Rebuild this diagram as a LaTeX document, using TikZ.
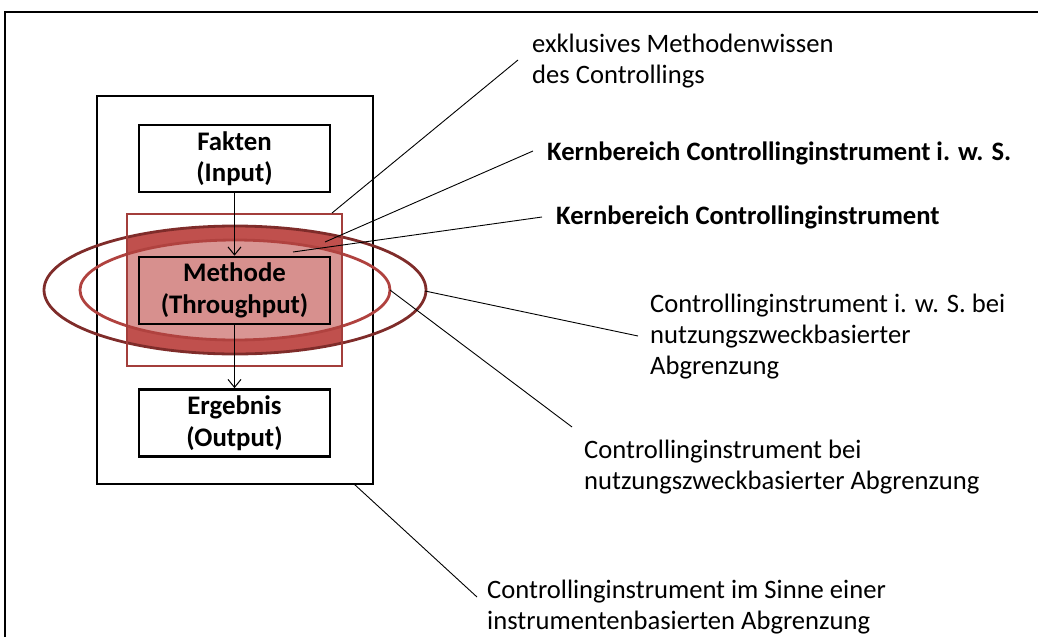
\documentclass[tikz,border=0pt]{standalone}
\usepackage{fontspec}
\setmainfont{Carlito}
\usetikzlibrary{arrows.meta}
\definecolor{bandred}{HTML}{C0504D}
\definecolor{lightred}{HTML}{D99694}
\definecolor{darkellipse}{HTML}{7F2C2A}
\definecolor{midellipse}{HTML}{B0423F}
\definecolor{rectred}{HTML}{A33E3B}
\newcommand\mylines[1]{\begin{tabular}[t]{@{}l@{}}#1\end{tabular}}
\begin{document}
\begin{tikzpicture}[x=1pt,y=-1pt,
  lbl/.style={font=\fontsize{26.6}{31}\selectfont, inner sep=0pt, anchor=base west},
  boldlbl/.style={lbl, font=\bfseries\fontsize{26.6}{31}\selectfont},
  stepbox/.style={draw, line width=2.6pt, minimum width=191pt, minimum height=67pt, align=center, font=\bfseries\fontsize{26.8}{31.5}\selectfont, inner sep=0pt},
  leader/.style={line width=0.9pt},
  flow/.style={line width=1pt, -{Straight Barb[length=8pt,width=13pt]}}]
\useasboundingbox (0,0) rectangle (1038,637);
% frame
\draw[line width=1.6pt] (5,637) -- (5,12) -- (1038,12);
% outer instrument box
\node[draw, line width=2.8pt, minimum width=276pt, minimum height=388pt, inner sep=0pt] (outer) at (235,290) {};
% filled region clipped to red rectangle
\begin{scope}
  \clip (127,214) rectangle (342,366);
  \fill[bandred] (235,290) ellipse [x radius=191pt, y radius=64pt];
  \fill[lightred] (235,290) ellipse [x radius=155pt, y radius=50pt];
\end{scope}
\draw[darkellipse, line width=2.8pt] (235,290) ellipse [x radius=191pt, y radius=64pt];
\draw[midellipse, line width=2.8pt] (235,290) ellipse [x radius=155pt, y radius=50pt];
\node[draw=rectred, line width=2.6pt, minimum width=215pt, minimum height=152pt, inner sep=0pt] (redrect) at (234.5,290) {};
% boxes
\node[stepbox] (fakten) at (234.5,158.5) {Fakten\\(Input)};
\node[stepbox, fill=lightred!92!bandred] (methode) at (234.5,290.5) {Methode\\(Throughput)};
\node[stepbox] (ergebnis) at (234.5,423) {Ergebnis\\(Output)};
\draw[flow] (fakten.south) -- (methode.north);
\draw[flow] (methode.south) -- (ergebnis.north);
% labels
\node[lbl] (t1) at (532,52) {\mylines{exklusives Methodenwissen\\des Controllings}};
\node[boldlbl] (t2) at (547,160) {Kernbereich Controllinginstrument i. w. S.};
\node[boldlbl] (t3) at (556,224) {Kernbereich Controllinginstrument};
\node[lbl] (t4) at (650,312) {\mylines{Controllinginstrument i. w. S. bei\\nutzungszweckbasierter\\Abgrenzung}};
\node[lbl] (t5) at (584,458) {\mylines{Controllinginstrument bei\\nutzungszweckbasierter Abgrenzung}};
\node[lbl] (t6) at (487,598) {\mylines{Controllinginstrument im Sinne einer\\instrumentenbasierten Abgrenzung}};
% leader lines
\coordinate (a1) at (332,213); \coordinate (b1) at (518,60);
\coordinate (a2) at (325,242); \coordinate (b2) at (533,151);
\coordinate (a3) at (293,252); \coordinate (b3) at (542,217);
\coordinate (a4) at (425,291); \coordinate (b4) at (638,336);
\coordinate (a5) at (390,290); \coordinate (b5) at (572,427);
\coordinate (a6) at (354,484); \coordinate (b6) at (477,597);
\foreach \i in {1,...,6} { \draw[leader] (a\i) -- (b\i); }
\end{tikzpicture}
\end{document}
